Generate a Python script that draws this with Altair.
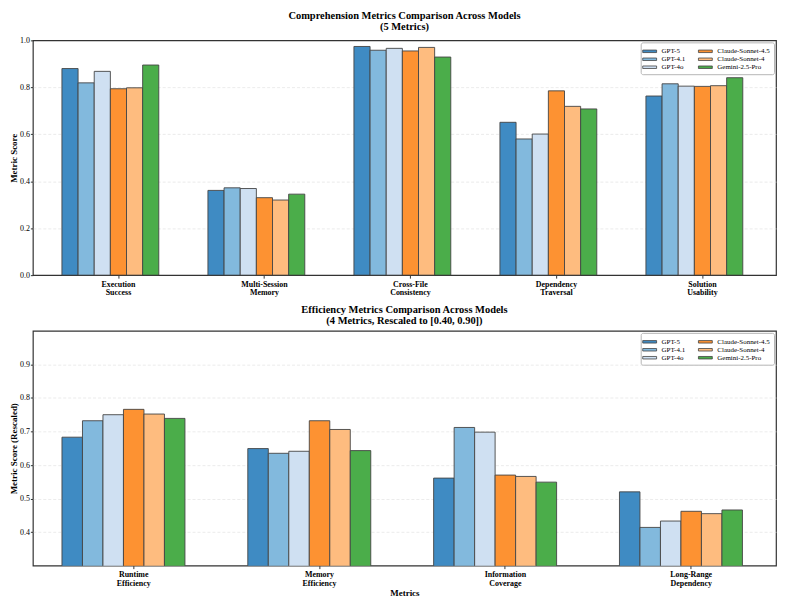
import altair as alt
import pandas as pd

models = ["GPT-5", "GPT-4.1", "GPT-4o", "Claude-Sonnet-4.5", "Claude-Sonnet-4", "Gemini-2.5-Pro"]
colors = ["#3f8bc3", "#82b9dd", "#cfe0f2", "#fd9232", "#febc7f", "#4bad4a"]

comp_metrics = ["Execution\nSuccess", "Multi-Session\nMemory", "Cross-File\nConsistency",
                "Dependency\nTraversal", "Solution\nUsability"]
comp_values = {
    "GPT-5":             [0.880, 0.361, 0.974, 0.651, 0.763],
    "GPT-4.1":           [0.819, 0.372, 0.958, 0.580, 0.815],
    "GPT-4o":            [0.868, 0.369, 0.966, 0.601, 0.805],
    "Claude-Sonnet-4.5": [0.794, 0.330, 0.955, 0.785, 0.804],
    "Claude-Sonnet-4":   [0.798, 0.320, 0.970, 0.719, 0.807],
    "Gemini-2.5-Pro":    [0.895, 0.345, 0.929, 0.708, 0.841],
}

eff_metrics = ["Runtime\nEfficiency", "Memory\nEfficiency", "Information\nCoverage", "Long-Range\nDependency"]
eff_values = {
    "GPT-5":             [0.683, 0.649, 0.561, 0.520],
    "GPT-4.1":           [0.732, 0.635, 0.712, 0.414],
    "GPT-4o":            [0.750, 0.641, 0.698, 0.433],
    "Claude-Sonnet-4.5": [0.766, 0.732, 0.570, 0.462],
    "Claude-Sonnet-4":   [0.752, 0.706, 0.566, 0.455],
    "Gemini-2.5-Pro":    [0.739, 0.643, 0.549, 0.466],
}

comp_ticks = [0.0, 0.2, 0.4, 0.6, 0.8, 1.0]
eff_ticks = [0.4, 0.5, 0.6, 0.7, 0.8, 0.9]

FONT = "Liberation Serif"


def long_df(metrics, values):
    rows = []
    for m in models:
        for met, v in zip(metrics, values[m]):
            rows.append({"metric": met, "model": m, "value": v})
    return pd.DataFrame(rows)


def panel(df, metrics, title, ytitle, ydomain, yticks, xscale, xtitle=None):
    x_axis = alt.Axis(
        labelExpr="split(datum.value, '\\n')",
        labelAngle=0, labelFont=FONT, labelFontSize=8, labelFontWeight="bold",
        labelColor="#000", labelLineHeight=8.5, labelPadding=2,
        tickSize=3, tickColor="#333", domain=False, grid=False,
        title=xtitle, titleFont=FONT, titleFontSize=9, titleFontWeight="bold",
        titleColor="#000", titlePadding=2,
    )
    y_axis = alt.Axis(
        values=yticks, format=".1f", labelFont=FONT, labelFontSize=8, labelColor="#000",
        labelPadding=1, tickSize=2.5, tickColor="#333", domain=False,
        grid=True, gridDash=[3, 2], gridColor="#e2e2e2", gridWidth=0.7,
        gridOpacity={"condition": {"test": "datum.value <= 0 || datum.value >= 1", "value": 0}, "value": 1},
        title=ytitle, titleFont=FONT, titleFontSize=9, titleFontWeight="bold",
        titleColor="#000", titlePadding=1,
    )
    return alt.Chart(df).mark_bar(stroke="#444", strokeWidth=0.9, clip=True).encode(
        x=alt.X("metric:N", sort=metrics, scale=xscale, axis=x_axis),
        xOffset=alt.XOffset("model:N", scale=alt.Scale(domain=models + ["_"], paddingInner=0, paddingOuter=0)),
        y=alt.Y("value:Q", scale=alt.Scale(domain=ydomain, zero=False, nice=False), axis=y_axis),
        y2=alt.datum(0),
        color=alt.Color("model:N", scale=alt.Scale(domain=models, range=colors),
                        legend=alt.Legend(
                            title=None, orient="top-right", columns=2, offset=2,
                            symbolType="M-1.55,-0.28H1.55V0.28H-1.55Z", symbolSize=81,
                            symbolStrokeColor="#444", symbolStrokeWidth=0.8, symbolOpacity=1,
                            labelFont=FONT, labelFontSize=7, labelColor="#000", labelOffset=7,
                            rowPadding=0, columnPadding=11, padding=4,
                            strokeColor="#b5b5b5", fillColor="white", cornerRadius=2,
                        )),
    ).properties(
        width=747, height=236,
        title=alt.TitleParams(text=title, font=FONT, fontSize=10.5, fontWeight="bold",
                              color="#000", lineHeight=11, offset=4, anchor="middle"),
    )


top = panel(
    long_df(comp_metrics, comp_values), comp_metrics,
    ["Comprehension Metrics Comparison Across Models", "(5 Metrics)"],
    "Metric Score", [0.0, 1.0], comp_ticks,
    alt.Scale(paddingInner=0.226, paddingOuter=0.158, align=0.63),
)
bottom = panel(
    long_df(eff_metrics, eff_values), eff_metrics,
    ["Efficiency Metrics Comparison Across Models", "(4 Metrics, Rescaled to [0.40, 0.90])"],
    "Metric Score (Rescaled)", [0.3, 1.0], eff_ticks,
    alt.Scale(paddingInner=0.228, paddingOuter=0.1135, align=0.69),
    xtitle="Metrics",
)

chart = alt.vconcat(top, bottom, spacing=6).resolve_scale(
    color="independent", x="independent", y="independent", xOffset="independent"
).resolve_legend(color="independent").properties(
    padding={"left": 0, "top": 0, "right": 0, "bottom": 0}
).configure_view(stroke="#333", strokeWidth=1.2)

chart.save("out.html", embed_options={"renderer": "svg", "actions": False})
